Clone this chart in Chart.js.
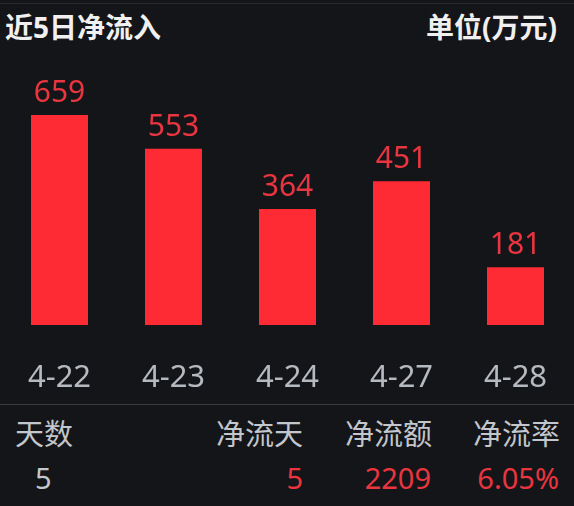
<!DOCTYPE html>
<html>
<head>
<meta charset="utf-8">
<script src="https://cdn.jsdelivr.net/npm/chart.js@4.4.0/dist/chart.umd.min.js"></script>
<style>
    html, body { margin: 0; padding: 0; background: #131519; width: 574px; height: 506px; overflow: hidden; }
    body { font-family: "Noto Sans", "Noto Sans CJK SC", sans-serif; position: relative; }
    .topline { position: absolute; left: 0; top: 3px; width: 574px; height: 1px; background: #272a2e; }
    .title { position: absolute; top: 13px; font-size: 28px; line-height: 28px; font-weight: bold; color: #f0f0f0; white-space: nowrap; }
    #chartBox { position: absolute; left: 0; top: 0; width: 574px; height: 404px; }
    .divider { position: absolute; left: 0; top: 404px; width: 574px; height: 1px; background: #383b40; }
    .cell { position: absolute; font-size: 29px; line-height: 29px; white-space: nowrap; }
    .head { top: 419px; color: #c3c6ca; }
    .val { top: 463px; color: #e8353f; }
</style>
</head>
<body>
<div class="topline"></div>
<div class="title" style="left:5px;">近5日净流入</div>
<div class="title" style="right:17px;">单位(万元)</div>
<div id="chartBox"><canvas id="flowChart"></canvas></div>
<div class="divider"></div>
<div id="summary"></div>

<script>
// Net inflow for the last 5 trading days (万元)
const days = ['4-22', '4-23', '4-24', '4-27', '4-28'];
const inflow = [659, 553, 364, 451, 181];
const yTicks = [0, 800];

// Summary row under the chart
const summaryHeads = ['天数', '净流天', '净流额', '净流率'];
const summaryValues = ['5', '5', '2209', '6.05%'];

const barRed = '#fe2b35';
const labelRed = '#e8353f';
const axisGray = '#b6babf';

// draws the number above each bar
const valueLabels = {
    id: 'valueLabels',
    afterDatasetsDraw(chart) {
        const ctx = chart.ctx;
        const meta = chart.getDatasetMeta(0);
        ctx.save();
        ctx.font = '30px "Noto Sans"';
        ctx.fillStyle = labelRed;
        ctx.textAlign = 'center';
        ctx.textBaseline = 'alphabetic';
        meta.data.forEach((bar, i) => {
            ctx.fillText(inflow[i], bar.x, bar.y - 13);
        });
        ctx.restore();
    }
};

new Chart(document.getElementById('flowChart'), {
    type: 'bar',
    data: {
        labels: days,
        datasets: [{
            data: inflow,
            backgroundColor: barRed,
            borderWidth: 0,
            barPercentage: 0.5,
            categoryPercentage: 1
        }]
    },
    options: {
        responsive: true,
        maintainAspectRatio: false,
        animation: false,
        layout: { padding: { top: 70, left: 2.5, right: 1.5, bottom: 9 } },
        plugins: {
            legend: { display: false },
            tooltip: { enabled: false }
        },
        scales: {
            x: {
                grid: { display: false, drawTicks: false },
                border: { display: false },
                ticks: {
                    color: axisGray,
                    font: { family: 'Noto Sans', size: 31 },
                    padding: 35,
                    maxRotation: 0,
                    autoSkip: false
                },
                // keep the label band a fixed height and stop it eating into the sides
                afterFit(scale) {
                    scale.height = 70;
                    scale.paddingLeft = 0;
                    scale.paddingRight = 0;
                }
            },
            y: {
                display: false,
                min: yTicks[0],
                max: yTicks[1]
            }
        }
    },
    plugins: [valueLabels]
});

// summary table
const summary = document.getElementById('summary');
const headPos = ['left:15px', 'right:271px', 'right:142px', 'right:14px'];
const valPos = ['left:35px', 'right:271px', 'right:143px', 'right:15px'];
summary.innerHTML = summaryHeads.map((h, i) =>
    `<div class="cell head" style="${headPos[i]}">${h}</div>`
).join('') + summaryValues.map((v, i) =>
    `<div class="cell val" style="${valPos[i]};${i === 0 ? 'color:#c3c6ca;' : ''}">${v}</div>`
).join('');
</script>
</body>
</html>
